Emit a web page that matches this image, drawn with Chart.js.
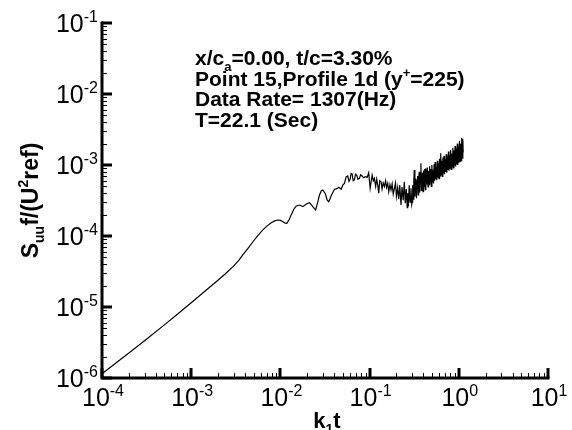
<!DOCTYPE html>
<html><head><meta charset="utf-8">
<script src="https://cdn.jsdelivr.net/npm/chart.js@4/dist/chart.umd.min.js"></script>
<style>html,body{margin:0;padding:0;background:#fff}#wrap{width:572px;height:430px}</style>
</head><body><div id="wrap"><canvas id="c" width="572" height="430"></canvas></div>
<script>
// ---- data ----
const kt = [
 1e-4, 2e-4, 3e-4, 5e-4, 7e-4, 1e-3, 1.25e-3, 1.5e-3, 1.92e-3, 2.4e-3,
 2.94e-3, 3.4e-3, 3.81e-3, 4.35e-3, 4.92e-3, 5.6e-3, 6.37e-3, 7.1e-3, 7.9e-3, 8.6e-3,
 9.4e-3, 1.0e-2, 1.07e-2, 1.13e-2, 1.18e-2, 1.24e-2, 1.32e-2, 1.42e-2, 1.51e-2, 1.64e-2,
 1.79e-2, 1.95e-2, 2.12e-2, 2.23e-2, 2.31e-2, 2.48e-2, 2.63e-2, 2.74e-2, 2.88e-2, 2.99e-2,
 3.2e-2, 3.35e-2, 3.49e-2, 3.75e-2, 4.04e-2, 4.25e-2, 4.51e-2, 4.8e-2, 5.0e-2, 5.22e-2,
 5.45e-2, 5.69e-2, 5.87e-2, 6.05e-2, 6.2e-2, 6.37e-2, 6.55e-2, 6.76e-2, 6.95e-2, 7.18e-2,
 7.4e-2, 7.69e-2, 7.95e-2, 8.24e-2, 8.6e-2, 8.98e-2, 9.4e-2, 9.77e-2, 0.1014, 0.1067,
 0.110, 0.1132, 0.117, 0.120, 0.1235, 0.1265, 0.130, 0.1345, 0.138, 0.142,
 0.1466, 0.151, 0.155, 0.1596, 0.164, 0.169, 0.174, 0.179, 0.184, 0.1897,
 0.195, 0.200, 0.2063, 0.212, 0.218, 0.225, 0.231, 0.238, 0.245, 0.251,
 0.258, 0.264, 0.267, 0.272, 0.278, 0.284, 0.291, 0.297,
 0.300, 0.304, 0.309, 0.313, 0.317, 0.322, 0.326, 0.331, 0.335, 0.340,
 0.345, 0.350, 0.355, 0.360, 0.365, 0.370, 0.376, 0.381, 0.386, 0.392,
 0.398, 0.403, 0.409, 0.415, 0.421, 0.427, 0.433, 0.439, 0.445, 0.452,
 0.458, 0.465, 0.471, 0.478, 0.485, 0.492, 0.499, 0.506, 0.513, 0.521,
 0.528, 0.536, 0.543, 0.551, 0.559, 0.567, 0.575, 0.583, 0.592, 0.600,
 0.609, 0.618, 0.627, 0.636, 0.645, 0.654, 0.663, 0.673, 0.683, 0.692,
 0.702, 0.712, 0.723, 0.733, 0.744, 0.754, 0.765, 0.776, 0.787, 0.799,
 0.810, 0.822, 0.834, 0.846, 0.858, 0.870, 0.883, 0.895, 0.908, 0.921,
 0.935, 0.948, 0.962, 0.976, 0.990, 1.004, 1.018, 1.033, 1.048, 1.063,
 1.078, 1.094, 1.110, 1.120
];
const suu = [
 1.15e-6, 2.25e-6, 3.35e-6, 5.6e-6, 7.9e-6, 1.15e-5, 1.45e-5, 1.76e-5, 2.29e-5, 2.92e-5,
 3.7e-5, 4.5e-5, 5.45e-5, 6.75e-5, 8.3e-5, 1.02e-4, 1.22e-4, 1.39e-4, 1.54e-4, 1.63e-4,
 1.68e-4, 1.66e-4, 1.59e-4, 1.52e-4, 1.51e-4, 1.66e-4, 1.98e-4, 2.40e-4, 2.65e-4, 2.73e-4,
 2.59e-4, 2.82e-4, 2.94e-4, 2.75e-4, 2.59e-4, 2.32e-4, 3.04e-4, 3.78e-4, 4.35e-4, 4.45e-4,
 3.9e-4, 3.2e-4, 3.04e-4, 3.8e-4, 4.55e-4, 4.6e-4, 4.85e-4, 4.55e-4, 5.2e-4, 5.5e-4,
 6.8e-4, 7.0e-4, 5.9e-4, 6.3e-4, 7.6e-4, 7.5e-4, 6.0e-4, 6.15e-4, 7.4e-4, 7.2e-4,
 6.3e-4, 6.5e-4, 7.3e-4, 7.0e-4, 6.6e-4, 6.85e-4, 6.7e-4, 7.8e-4, 4.7e-4, 7.2e-4,
 6.0e-4, 6.5e-4, 5.0e-4, 6.3e-4, 5.2e-4, 4.0e-4, 6.0e-4, 5.8e-4, 4.6e-4, 5.6e-4,
 4.95e-4, 6.0e-4, 4.8e-4, 5.5e-4, 4.2e-4, 5.3e-4, 4.45e-4, 5.4e-4, 3.9e-4, 4.7e-4,
 5.6e-4, 3.6e-4, 4.8e-4, 3.3e-4, 5.2e-4, 2.73e-4, 4.9e-4, 3.2e-4, 5.8e-4, 2.9e-4,
 4.6e-4, 2.5e-4, 4.0e-4, 2.6e-4, 5.2e-4, 3.0e-4, 4.7e-4, 2.8e-4,
 3.0e-4, 5.2e-4, 3.3e-4, 6.0e-4, 8.5e-4, 3.6e-4, 5.5e-4, 6.4e-4, 3.4e-4, 6.0e-4,
 7.0e-4, 3.8e-4, 6.6e-4, 8.0e-4, 4.1e-4, 7.2e-4, 1.06e-3, 4.4e-4, 6.8e-4, 7.8e-4,
 4.2e-4, 8.4e-4, 5.0e-4, 8.8e-4, 4.5e-4, 9.0e-4, 5.4e-4, 7.6e-4, 9.2e-4, 4.9e-4,
 8.2e-4, 5.3e-4, 9.6e-4, 5.6e-4, 8.8e-4, 5.0e-4, 1.0e-3, 5.8e-4, 8.6e-4, 5.5e-4,
 1.02e-3, 6.0e-4, 1.1e-3, 6.3e-4, 9.5e-4, 6.1e-4, 1.15e-3, 6.6e-4, 1.05e-3, 6.4e-4,
 1.22e-3, 7.0e-4, 1.46e-3, 7.3e-4, 1.15e-3, 6.9e-4, 1.28e-3, 7.6e-4, 1.35e-3, 7.4e-4,
 1.2e-3, 8.0e-4, 1.42e-3, 7.8e-4, 1.33e-3, 8.5e-4, 1.55e-3, 8.3e-4, 1.38e-3, 9.0e-4,
 1.62e-3, 8.7e-4, 1.45e-3, 9.4e-4, 1.75e-3, 9.1e-4, 1.6e-3, 9.8e-4, 1.85e-3, 9.5e-4,
 1.7e-3, 1.02e-3, 2.0e-3, 1.0e-3, 1.8e-3, 1.08e-3, 2.2e-3, 1.12e-3, 2.0e-3, 1.15e-3,
 2.4e-3, 1.25e-3, 2.3e-3, 1.5e-3
];
const xTickExp = ['-4', '-3', '-2', '-1', '0', '1'];
const yTickExp = ['-6', '-5', '-4', '-3', '-2', '-1'];
const infoLines = [
  [['x/c', 0], ['a', -1], ['=0.00, t/c=3.30%', 0]],
  [['Point 15,Profile 1d (y', 0], ['+', 1], ['=225)', 0]],
  [['Data Rate= 1307(Hz)', 0]],
  [['T=22.1 (Sec)', 0]]
];
const xTitle = [['k', 0], ['1', -1], ['t', 0]];
const yTitle = [['S', 0], ['uu', -1], ['f/(U', 0], ['2', 1], ['ref)', 0]];

const FONT = "'Liberation Sans', Arial, Helvetica, sans-serif";

function richWidth(ctx, segs, size, bold) {
  let w = 0;
  for (const [t, k] of segs) {
    const s = k === 0 ? size : Math.round(size * 0.62);
    ctx.font = (bold ? 'bold ' : '') + s + 'px ' + FONT;
    w += ctx.measureText(t).width;
  }
  return w;
}
function drawRich(ctx, segs, x, y, size, bold, align) {
  let w = richWidth(ctx, segs, size, bold);
  let cx = align === 'center' ? x - w / 2 : (align === 'right' ? x - w : x);
  ctx.textBaseline = 'alphabetic';
  ctx.textAlign = 'left';
  for (const [t, k] of segs) {
    const s = k === 0 ? size : Math.round(size * 0.62);
    ctx.font = (bold ? 'bold ' : '') + s + 'px ' + FONT;
    const dy = k === -1 ? size * 0.28 : (k === 1 ? -size * 0.42 : 0);
    ctx.fillText(t, cx, y + dy);
    cx += ctx.measureText(t).width;
  }
}

const decor = {
  id: 'decor',
  afterDraw(chart) {
    const ctx = chart.ctx, xs = chart.scales.x, ys = chart.scales.y, a = chart.chartArea;
    ctx.save();
    ctx.fillStyle = '#000';
    ctx.strokeStyle = '#000';
    // minor ticks
    ctx.lineWidth = 1;
    ctx.beginPath();
    for (let d = -4; d < 1; d++) for (let m = 2; m <= 9; m++) {
      const px = Math.round(xs.getPixelForValue(m * Math.pow(10, d))) + 0.5;
      ctx.moveTo(px, a.bottom); ctx.lineTo(px, a.bottom - 5);
    }
    for (let d = -6; d < -1; d++) for (let m = 2; m <= 9; m++) {
      const py = Math.round(ys.getPixelForValue(m * Math.pow(10, d))) + 0.5;
      ctx.moveTo(a.left, py); ctx.lineTo(a.left + 5, py);
    }
    ctx.stroke();
    // major ticks
    ctx.lineWidth = 3;
    ctx.beginPath();
    xTickExp.forEach(e => {
      const px = Math.round(xs.getPixelForValue(Math.pow(10, +e)));
      ctx.moveTo(px, a.bottom); ctx.lineTo(px, a.bottom - 10);
    });
    yTickExp.forEach(e => {
      const py = Math.round(ys.getPixelForValue(Math.pow(10, +e)));
      ctx.moveTo(a.left, py); ctx.lineTo(a.left + 10, py);
    });
    ctx.stroke();
    // axis lines
    ctx.lineWidth = 3;
    ctx.lineCap = 'square';
    ctx.beginPath();
    ctx.moveTo(a.left, a.top); ctx.lineTo(a.left, a.bottom); ctx.lineTo(a.right, a.bottom);
    ctx.stroke();
    // tick labels
    xTickExp.forEach(e => {
      const px = xs.getPixelForValue(Math.pow(10, +e));
      drawRich(ctx, [['10', 0], [e, 1]], px + 1, a.bottom + 28, 25, false, 'center');
    });
    yTickExp.forEach(e => {
      const py = ys.getPixelForValue(Math.pow(10, +e));
      drawRich(ctx, [['10', 0], [e, 1]], a.left - 4, py + 9, 25, false, 'right');
    });
    // axis titles
    drawRich(ctx, xTitle, (a.left + a.right) / 2 + 2, 428, 22, true, 'center');
    ctx.save();
    ctx.translate(38, (a.top + a.bottom) / 2);
    ctx.rotate(-Math.PI / 2);
    drawRich(ctx, yTitle, 0, 0, 23, true, 'center');
    ctx.restore();
    // annotation
    infoLines.forEach((ln, i) => drawRich(ctx, ln, 195, 65 + i * 20.7, 21, true, 'left'));
    ctx.restore();
  }
};

new Chart(document.getElementById('c'), {
  type: 'line',
  data: {
    datasets: [{
      data: kt.map((x, i) => ({ x: x, y: suu[i] })),
      borderColor: '#000',
      borderWidth: 1.2,
      pointRadius: 0,
      tension: 0,
      fill: false
    }]
  },
  options: {
    responsive: false,
    animation: false,
    devicePixelRatio: 1,
    layout: { padding: { left: 0, right: 24, top: 23, bottom: 0 } },
    plugins: { legend: { display: false }, tooltip: { enabled: false } },
    scales: {
      x: {
        type: 'logarithmic', min: 1e-4, max: 10,
        grid: { display: false }, border: { display: false },
        ticks: { display: false },
        afterFit(s) { s.height = 52; }
      },
      y: {
        type: 'logarithmic', min: 1e-6, max: 1e-1,
        grid: { display: false }, border: { display: false },
        ticks: { display: false },
        afterFit(s) { s.width = 102; }
      }
    }
  },
  plugins: [decor]
});
</script>
</body></html>
